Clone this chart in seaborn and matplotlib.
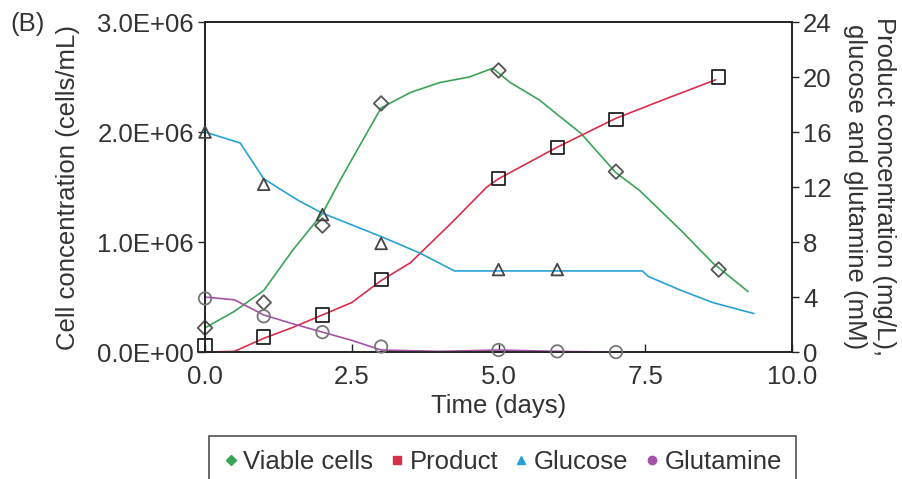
import numpy as np
import pandas as pd
import matplotlib
matplotlib.use("Agg")
import matplotlib.pyplot as plt
from matplotlib.lines import Line2D
import seaborn as sns

# ---- data: model curves ----
viable_line_t = [0, 0.5, 1.0, 1.5, 2.0, 2.3, 2.5, 3.0, 3.5, 4.0, 4.5, 4.9, 5.2, 5.7, 6.0, 6.4, 7.0, 7.4, 8.1, 8.65, 9.25]
viable_line_v = [0.22e6, 0.37e6, 0.56e6, 0.93e6, 1.26e6, 1.56e6, 1.75e6, 2.22e6, 2.36e6, 2.45e6, 2.50e6, 2.58e6,
                 2.45e6, 2.29e6, 2.16e6, 1.99e6, 1.63e6, 1.47e6, 1.11e6, 0.81e6, 0.55e6]
product_line_t = [0, 0.5, 1.0, 1.5, 2.0, 2.5, 3.0, 3.5, 4.2, 4.8, 5.0, 6.0, 7.0, 7.9, 8.7]
product_line_v = [0.0, 0.05, 1.0, 1.8, 2.7, 3.6, 5.2, 6.5, 9.4, 12.0, 12.6, 14.9, 17.0, 18.5, 19.8]
glucose_line_t = [0, 0.6, 1.0, 1.6, 2.0, 3.0, 3.66, 4.25, 7.45, 7.55, 8.1, 8.65, 9.35]
glucose_line_v = [16.0, 15.2, 12.6, 11.0, 10.1, 8.4, 7.2, 5.9, 5.9, 5.5, 4.5, 3.6, 2.8]
glutamine_line_t = [0, 0.5, 1.0, 1.5, 2.0, 2.5, 3.0, 4.0, 5.0, 6.0, 7.0]
glutamine_line_v = [4.0, 3.8, 2.7, 2.05, 1.45, 0.85, 0.15, 0.05, 0.15, 0.05, 0.0]

# ---- data: measurements ----
viable_t = [0, 1, 2, 3, 5, 7, 8.75]
viable_v = [0.22e6, 0.45e6, 1.15e6, 2.26e6, 2.56e6, 1.64e6, 0.75e6]
product_t = [0, 1, 2, 3, 5, 6, 7, 8.75]
product_v = [0.5, 1.1, 2.7, 5.3, 12.6, 14.9, 16.9, 20.0]
glucose_t = [0, 1, 2, 3, 5, 6]
glucose_v = [16.0, 12.2, 10.0, 7.9, 6.0, 6.0]
glutamine_t = [0, 1, 2, 3, 5, 6, 7]
glutamine_v = [3.9, 2.6, 1.45, 0.4, 0.15, 0.05, 0.0]

left_ticks = [0, 1e6, 2e6, 3e6]
right_ticks = [0, 4, 8, 12, 16, 20, 24]
x_ticks = [0, 2.5, 5.0, 7.5, 10.0]
legend_labels = ["Viable cells", "Product", "Glucose", "Glutamine"]

C_GREEN = "#3aa456"
C_RED = "#d92e4a"
C_BLUE = "#27a2d8"
C_PURPLE = "#a552a8"

sns.set_style("ticks")
plt.rcParams["font.family"] = ["Liberation Sans", "DejaVu Sans"]
FS = 18.5

fig = plt.figure(figsize=(9.02, 4.79), dpi=100)
ax = fig.add_axes([0.2273, 0.265, 0.6508, 0.689])
ax2 = ax.twinx()

# lines
sns.lineplot(x=viable_line_t, y=viable_line_v, ax=ax, color=C_GREEN, lw=1.2, zorder=2)
sns.lineplot(x=product_line_t, y=product_line_v, ax=ax2, color=C_RED, lw=1.2, zorder=2)
sns.lineplot(x=glucose_line_t, y=glucose_line_v, ax=ax2, color=C_BLUE, lw=1.2, zorder=2)
sns.lineplot(x=glutamine_line_t, y=glutamine_line_v, ax=ax2, color=C_PURPLE, lw=1.2, zorder=2)

# markers
sc_kw = dict(facecolor="none", linewidth=1.3, legend=False, zorder=5, clip_on=False)
sns.scatterplot(x=viable_t, y=viable_v, ax=ax, marker="D", s=55, edgecolor="#555555", **sc_kw)
sns.scatterplot(x=product_t, y=product_v, ax=ax2, marker="s", s=90, edgecolor="#222222", **sc_kw)
sns.scatterplot(x=glucose_t, y=glucose_v, ax=ax2, marker="^", s=70, edgecolor="#444444", **sc_kw)
sns.scatterplot(x=glutamine_t, y=glutamine_v, ax=ax2, marker="o", s=80, edgecolor="#777777", **sc_kw)

ax.set_xlim(0, 10)
ax.set_ylim(0, 3e6)
ax2.set_ylim(0, 24)
ax.set_xticks(x_ticks)
ax.set_xticklabels([f"{v:.1f}" for v in x_ticks], fontsize=FS, color="#333333")
ax.set_yticks(left_ticks)
ax.set_yticklabels([f"{v:.1E}" for v in left_ticks], fontsize=FS, color="#333333")
ax2.set_yticks(right_ticks)
ax2.set_yticklabels([str(v) for v in right_ticks], fontsize=FS, color="#333333")

ax.tick_params(axis="x", direction="in", length=6, width=1, pad=9)
ax.tick_params(axis="y", direction="out", length=5, width=1, pad=3)
ax2.tick_params(axis="y", direction="out", length=5, width=1, pad=3)
for a in (ax, ax2):
    for sp in a.spines.values():
        sp.set_visible(True)
        sp.set_linewidth(1.2)
        sp.set_color("#222222")

ax.set_xlabel("Time (days)", fontsize=FS, color="#333333", labelpad=4)
ax.set_ylabel("Cell concentration (cells/mL)", fontsize=FS, color="#333333", labelpad=12)
ax2.set_ylabel("Product concentration (mg/L),\nglucose and glutamine (mM)", fontsize=FS,
               color="#333333", rotation=270, labelpad=46, linespacing=1.25)

fig.text(0.012, 0.975, "(B)", fontsize=FS, color="#333333", va="top", ha="left")

handles = [
    Line2D([], [], ls="none", marker="D", ms=5, color=C_GREEN),
    Line2D([], [], ls="none", marker="s", ms=6, color=C_RED),
    Line2D([], [], ls="none", marker="^", ms=6, color=C_BLUE),
    Line2D([], [], ls="none", marker="o", ms=6, color=C_PURPLE),
]
leg = fig.legend(handles, legend_labels, loc="upper center", bbox_to_anchor=(0.557, 0.09),
                 ncol=4, fontsize=FS, frameon=True, fancybox=False, handlelength=0.6,
                 handletextpad=0.2, columnspacing=0.6, borderpad=0.55, borderaxespad=0,
                 labelcolor="#333333")
leg.get_frame().set_edgecolor("#222222")
leg.get_frame().set_linewidth(1.2)

fig.savefig("out.png", dpi=100)
